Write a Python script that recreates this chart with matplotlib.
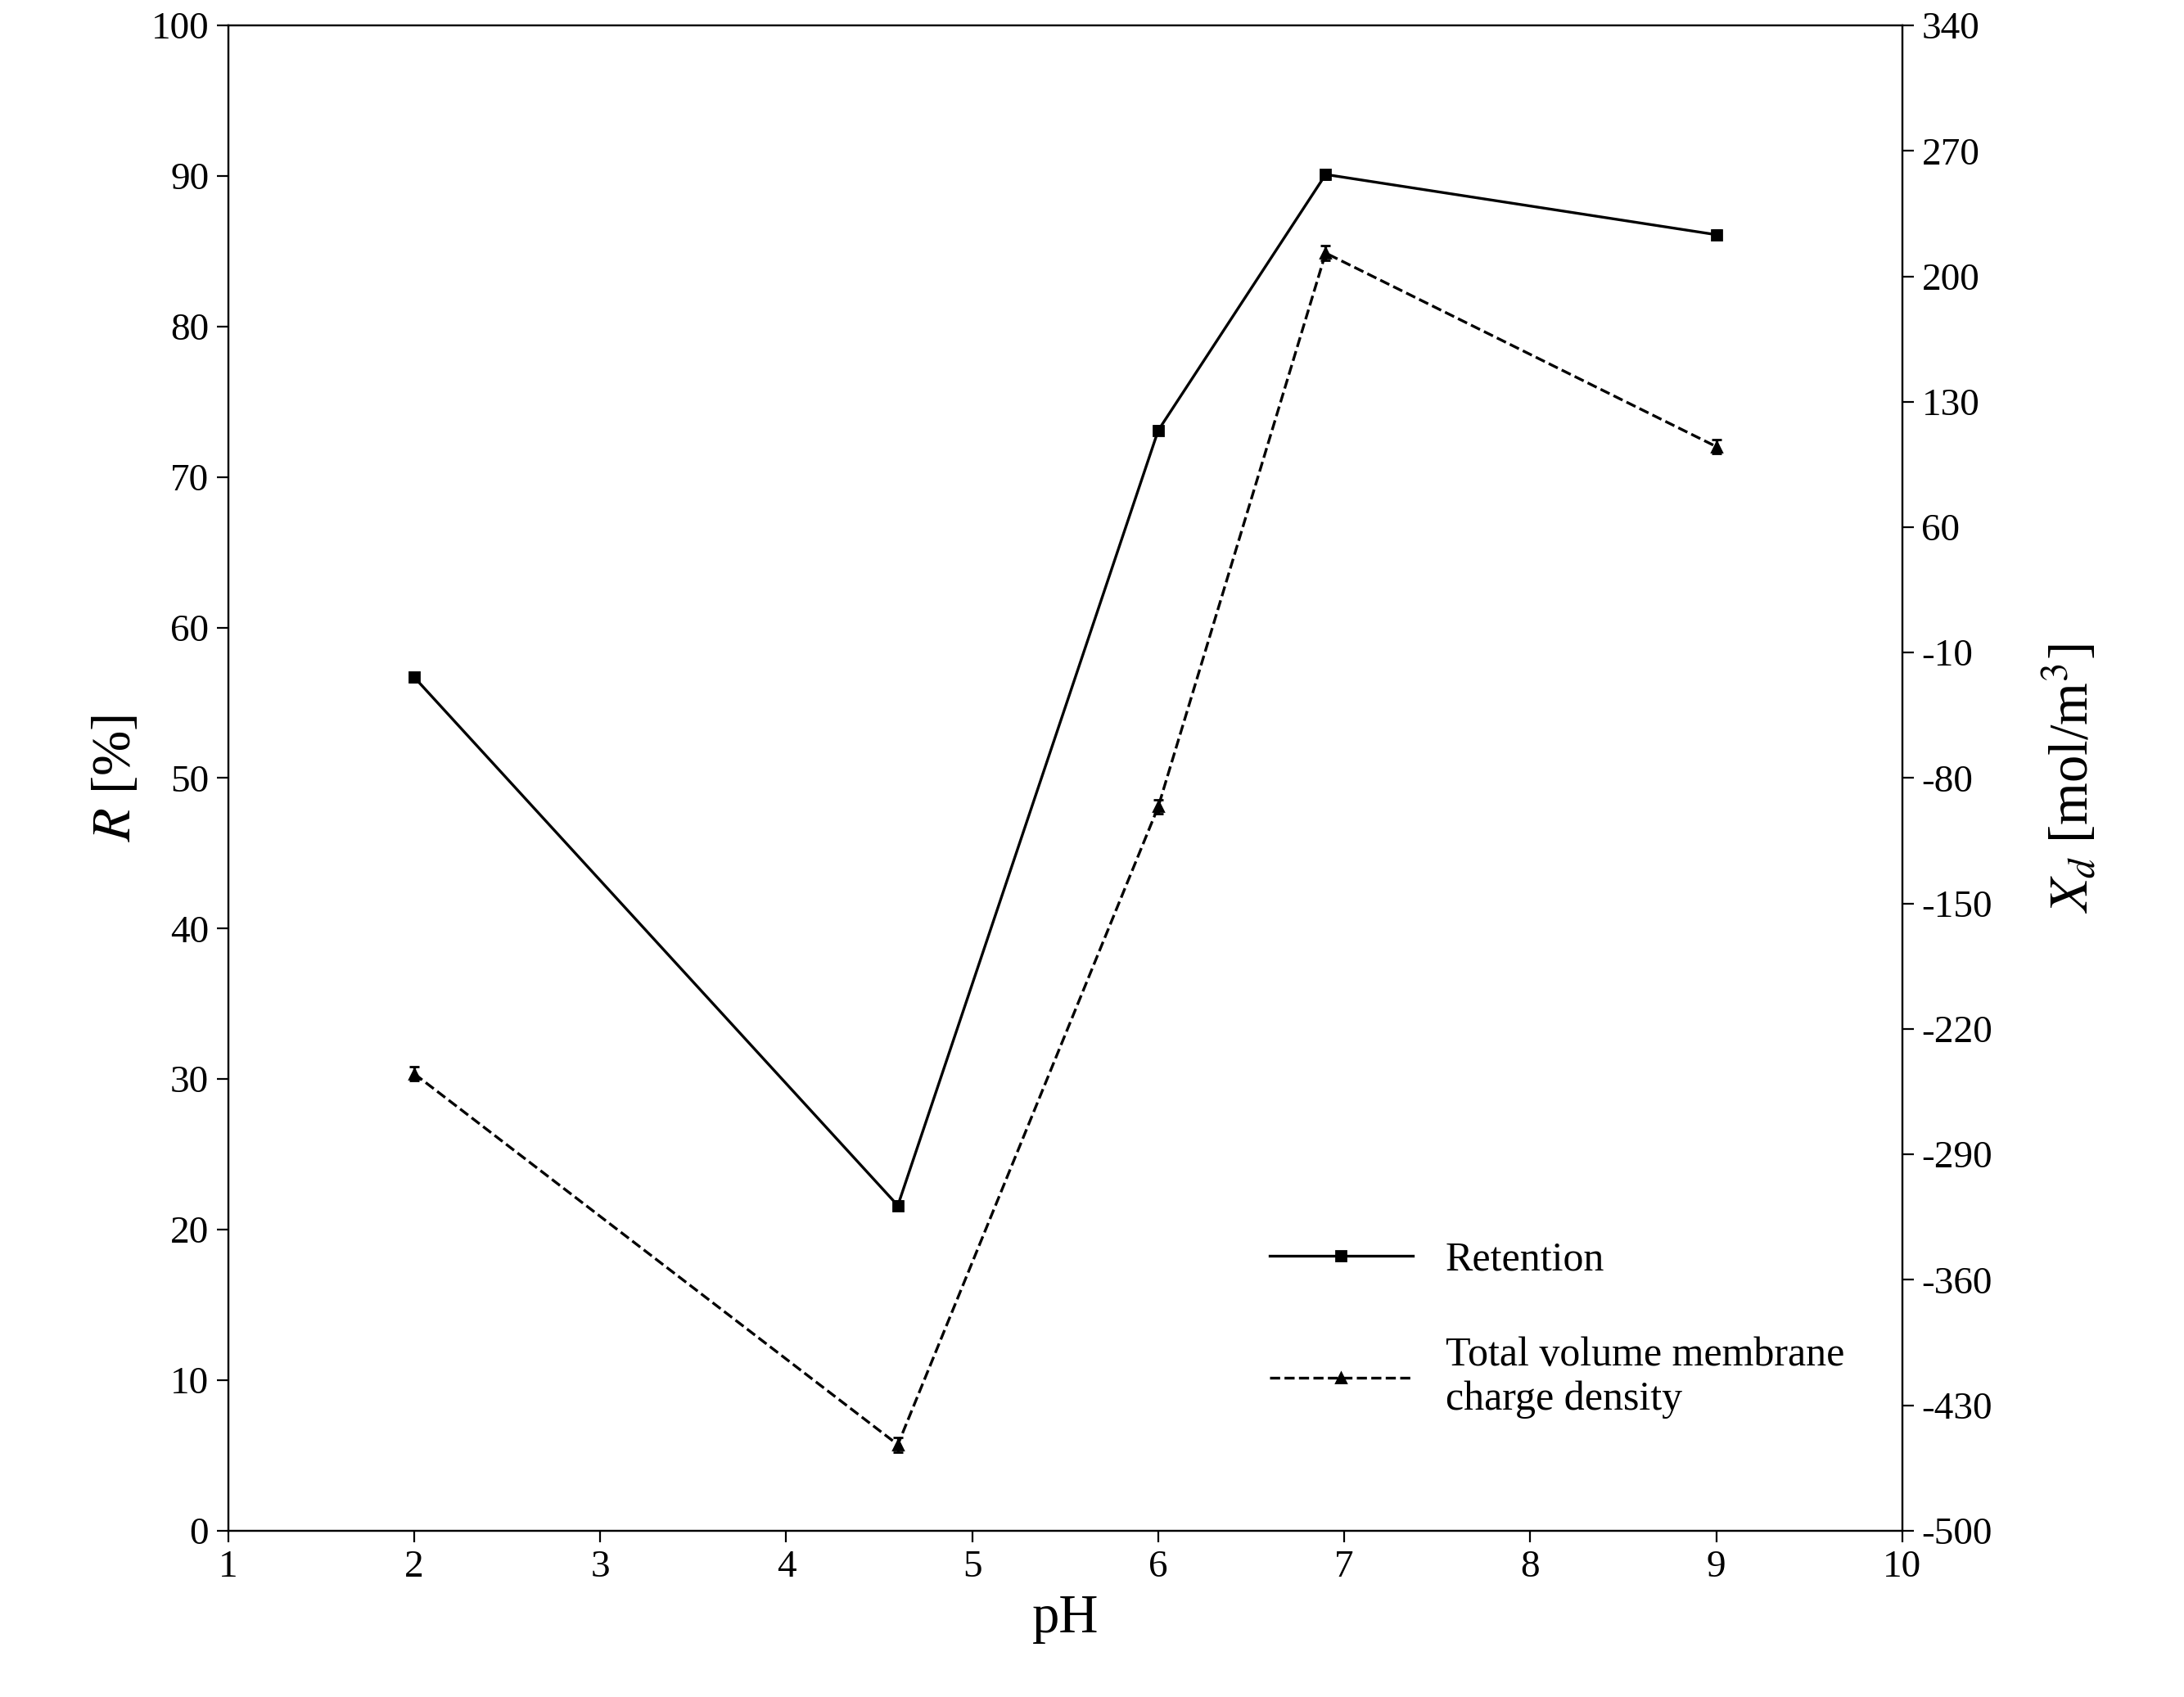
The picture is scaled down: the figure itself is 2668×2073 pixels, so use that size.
import matplotlib
matplotlib.use("Agg")
import matplotlib.pyplot as plt
from matplotlib.lines import Line2D

pH = [2, 4.6, 6, 6.9, 9]
retention = [56.7, 21.6, 73.1, 90.1, 86.1]
xd = [-245, -452, -96, 213, 105]
xd_err = [4, 4, 4, 4, 4]
r_err = [0.3, 0.3, 0.3, 0.3, 0.3]

plt.rcParams['font.family'] = ['Liberation Serif', 'DejaVu Serif']
plt.rcParams['mathtext.fontset'] = 'stix'
plt.rcParams['axes.unicode_minus'] = False
fig = plt.figure(figsize=(13.34, 10.365), dpi=200)
ax = fig.add_axes([0.1045, 0.098, 0.7665, 0.887])
ax2 = ax.twinx()

ax.errorbar(pH, retention, yerr=r_err, color='black', lw=1.2, marker='s', ms=4, capsize=2)
ax2.errorbar(pH, xd, yerr=xd_err, color='black', lw=1.2, ls='--', marker='^', ms=4, capsize=2)

ax.set_xlim(1, 10)
ax.set_ylim(0, 100)
ax.set_xticks(range(1, 11))
ax.set_yticks(range(0, 101, 10))
ax2.set_ylim(-500, 340)
ax2.set_yticks(range(-500, 341, 70))
for a in (ax, ax2):
    a.tick_params(labelsize=17, direction='out', length=5)
ax.set_xlabel('pH', fontsize=24)
ax.set_ylabel(r'$R$ [%]', fontsize=24)
ax2.set_ylabel(r'$X_d$ [mol/m$^3$]', fontsize=24, labelpad=22)

h1 = Line2D([], [], color='black', lw=1.2, marker='s', ms=4)
h2 = Line2D([], [], color='black', lw=1.2, ls='--', marker='^', ms=4)
ax.legend([h1, h2], ['Retention', 'Total volume membrane\ncharge density'],
          loc='lower left', bbox_to_anchor=(0.6, 0.05), frameon=False, fontsize=18,
          handlelength=3.5, labelspacing=1.4)
fig.savefig('out.png', dpi=200)
